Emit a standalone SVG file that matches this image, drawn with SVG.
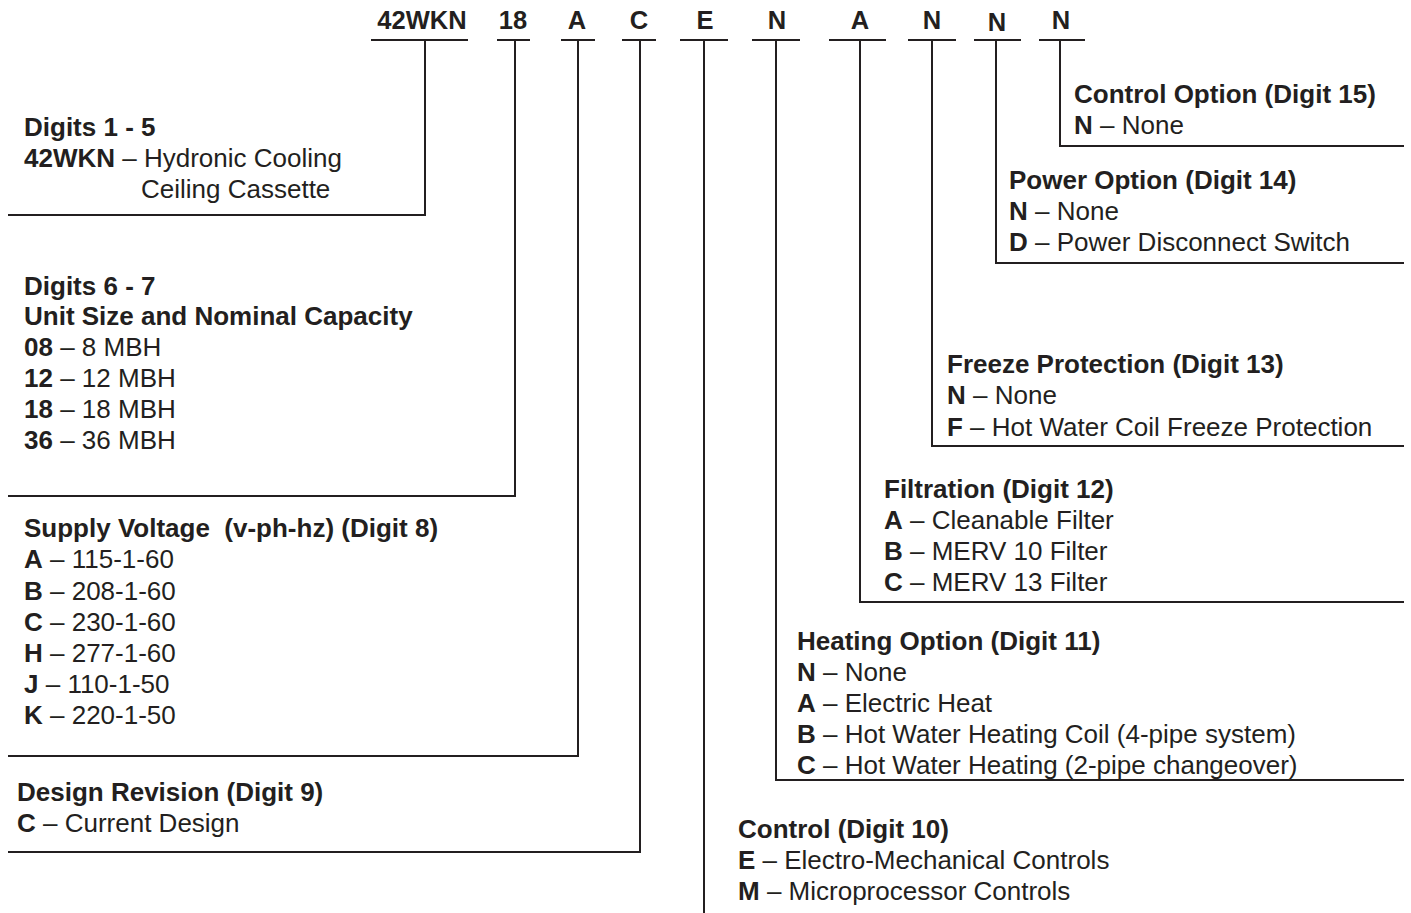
<svg xmlns="http://www.w3.org/2000/svg" width="1411" height="913" viewBox="0 0 1411 913">
<style>
text{font-family:"Liberation Sans",Arial,Helvetica,sans-serif;font-size:26px;fill:#231f20}
.b{font-weight:bold}
.h{font-weight:bold;font-size:25.5px;text-anchor:middle}
.ln{stroke:#231f20;stroke-width:2;fill:none}
</style>
<rect width="1411" height="913" fill="#fff"/>
<g id="header">
<text class="h" x="422" y="29">42WKN</text>
<text class="h" x="513" y="29">18</text>
<text class="h" x="577" y="29">A</text>
<text class="h" x="639" y="29">C</text>
<text class="h" x="705" y="29">E</text>
<text class="h" x="777" y="29">N</text>
<text class="h" x="860" y="29">A</text>
<text class="h" x="932" y="29">N</text>
<text class="h" x="997" y="31">N</text>
<text class="h" x="1061" y="29">N</text>
</g>
<g id="connectors" class="ln">
<path d="M371 40H468M497 40H530M561 40H595M622 40H656M680 40H728M752 40H800M829 40H886M908 40H956M974 40H1021M1039 40H1085"/>
<path d="M425 40V215H8"/>
<path d="M515 40V496H8"/>
<path d="M578 40V756H8"/>
<path d="M640 40V852H8"/>
<path d="M704 40V913"/>
<path d="M776 40V780H1404"/>
<path d="M860 40V602H1404"/>
<path d="M932 40V446H1404"/>
<path d="M996 40V263H1404"/>
<path d="M1060 40V146H1404"/>
</g>
<g id="digits1-5">
<text class="b" x="24" y="136">Digits 1 - 5</text>
<text x="24" y="167"><tspan class="b">42WKN</tspan> – Hydronic Cooling</text>
<text x="141" y="198">Ceiling Cassette</text>
</g>
<g id="digits6-7">
<text class="b" x="24" y="295">Digits 6 - 7</text>
<text class="b" x="24" y="325">Unit Size and Nominal Capacity</text>
<text x="24" y="356"><tspan class="b">08</tspan> – 8 MBH</text>
<text x="24" y="387"><tspan class="b">12</tspan> – 12 MBH</text>
<text x="24" y="418"><tspan class="b">18</tspan> – 18 MBH</text>
<text x="24" y="449"><tspan class="b">36</tspan> – 36 MBH</text>
</g>
<g id="digit8">
<text class="b" x="24" y="537" xml:space="preserve">Supply Voltage  (v-ph-hz) (Digit 8)</text>
<text x="24" y="568"><tspan class="b">A</tspan> – 115-1-60</text>
<text x="24" y="600"><tspan class="b">B</tspan> – 208-1-60</text>
<text x="24" y="631"><tspan class="b">C</tspan> – 230-1-60</text>
<text x="24" y="662"><tspan class="b">H</tspan> – 277-1-60</text>
<text x="24" y="693"><tspan class="b">J</tspan> – 110-1-50</text>
<text x="24" y="724"><tspan class="b">K</tspan> – 220-1-50</text>
</g>
<g id="digit9">
<text class="b" x="17" y="801">Design Revision (Digit 9)</text>
<text x="17" y="832"><tspan class="b">C</tspan> – Current Design</text>
</g>
<g id="digit10">
<text class="b" x="738" y="838">Control (Digit 10)</text>
<text x="738" y="869"><tspan class="b">E</tspan> – Electro-Mechanical Controls</text>
<text x="738" y="900"><tspan class="b">M</tspan> – Microprocessor Controls</text>
</g>
<g id="digit11">
<text class="b" x="797" y="650">Heating Option (Digit 11)</text>
<text x="797" y="681"><tspan class="b">N</tspan> – None</text>
<text x="797" y="712"><tspan class="b">A</tspan> – Electric Heat</text>
<text x="797" y="743"><tspan class="b">B</tspan> – Hot Water Heating Coil (4-pipe system)</text>
<text x="797" y="774"><tspan class="b">C</tspan> – Hot Water Heating (2-pipe changeover)</text>
</g>
<g id="digit12">
<text class="b" x="884" y="498">Filtration (Digit 12)</text>
<text x="884" y="529"><tspan class="b">A</tspan> – Cleanable Filter</text>
<text x="884" y="560"><tspan class="b">B</tspan> – MERV 10 Filter</text>
<text x="884" y="591"><tspan class="b">C</tspan> – MERV 13 Filter</text>
</g>
<g id="digit13">
<text class="b" x="947" y="373">Freeze Protection (Digit 13)</text>
<text x="947" y="404"><tspan class="b">N</tspan> – None</text>
<text x="947" y="436"><tspan class="b">F</tspan> – Hot Water Coil Freeze Protection</text>
</g>
<g id="digit14">
<text class="b" x="1009" y="189">Power Option (Digit 14)</text>
<text x="1009" y="220"><tspan class="b">N</tspan> – None</text>
<text x="1009" y="251"><tspan class="b">D</tspan> – Power Disconnect Switch</text>
</g>
<g id="digit15">
<text class="b" x="1074" y="103">Control Option (Digit 15)</text>
<text x="1074" y="134"><tspan class="b">N</tspan> – None</text>
</g>
</svg>
